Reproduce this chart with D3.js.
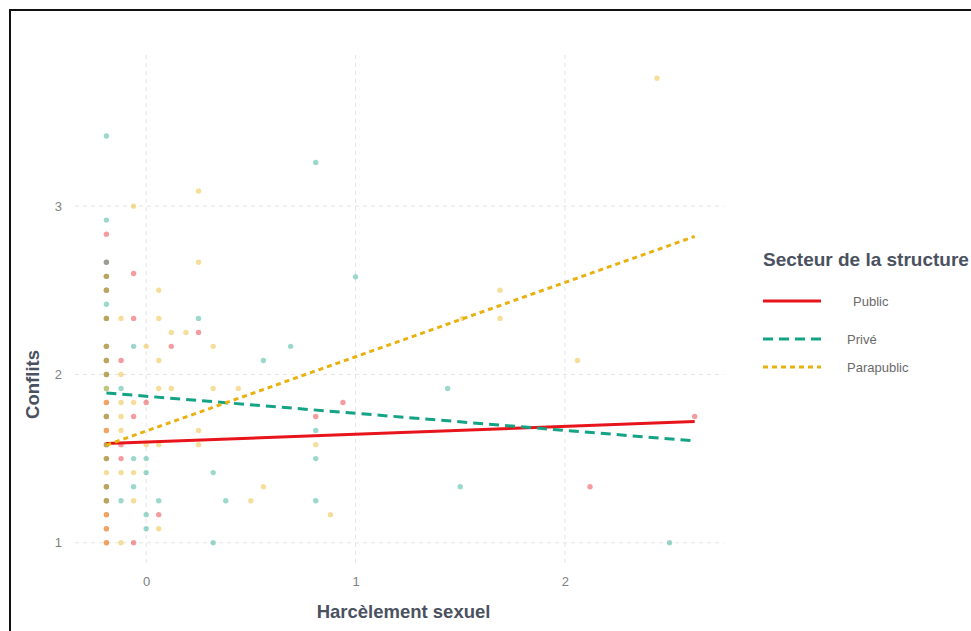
<!DOCTYPE html>
<html><head><meta charset="utf-8">
<script src="https://cdn.jsdelivr.net/npm/d3@7"></script>
<style>body{margin:0;background:#fff}svg{display:block}</style>
</head><body>
<svg id="c" width="971" height="631"></svg>
<script>
// ---- data ----
const categories = ["Public", "Privé", "Parapublic"];
const colors = ["#E8141C", "#14A385", "#E9B10F"];
const xTicks = [0, 1, 2];
const yTicks = [1, 2, 3];
const xLabel = "Harcèlement sexuel";
const yLabel = "Conflits";
const legendTitle = "Secteur de la structure";

// points [x, y] per sector
const publicPts = [
  [-0.19,1.0],[-0.19,1.083],[-0.19,1.167],[-0.19,1.25],[-0.19,1.333],[-0.19,1.5],[-0.19,1.583],[-0.19,1.667],
  [-0.19,1.75],[-0.19,1.833],[-0.19,2.0],[-0.19,2.083],[-0.19,2.167],[-0.19,2.333],[-0.19,2.5],[-0.19,2.583],
  [-0.19,2.667],[-0.19,2.833],
  [-0.12,2.083],[-0.12,1.583],[-0.12,1.5],
  [-0.06,2.6],[-0.06,2.333],[-0.06,1.75],[-0.06,1.0],
  [0,1.833],[0.06,1.167],[0.12,2.167],[0.25,2.25],
  [0.81,1.75],[0.94,1.833],[2.12,1.333],[2.62,1.75]
];
const privePts = [
  [-0.19,1.25],[-0.19,1.333],[-0.19,1.5],[-0.19,1.583],[-0.19,1.75],[-0.19,1.917],[-0.19,2.0],[-0.19,2.083],
  [-0.19,2.167],[-0.19,2.333],[-0.19,2.417],[-0.19,2.5],[-0.19,2.583],[-0.19,2.667],[-0.19,2.917],[-0.19,3.417],
  [-0.12,1.917],[-0.12,1.25],
  [-0.06,2.167],[-0.06,1.5],[-0.06,1.333],
  [0,1.5],[0,1.417],[0,1.167],[0,1.083],[0.06,1.25],
  [0.25,2.333],[0.32,1.417],[0.32,1.0],[0.38,1.25],[0.56,2.083],[0.69,2.167],
  [0.81,3.26],[0.81,1.667],[0.81,1.5],[0.81,1.25],
  [1.0,2.58],[1.44,1.917],[1.5,1.333],[2.5,1.0]
];
const parapublicPts = [
  [-0.19,1.0],[-0.19,1.083],[-0.19,1.167],[-0.19,1.25],[-0.19,1.333],[-0.19,1.417],[-0.19,1.5],[-0.19,1.583],
  [-0.19,1.667],[-0.19,1.75],[-0.19,1.833],[-0.19,1.917],[-0.19,2.0],[-0.19,2.083],[-0.19,2.167],[-0.19,2.333],
  [-0.19,2.5],[-0.19,2.583],
  [-0.12,2.333],[-0.12,2.0],[-0.12,1.833],[-0.12,1.75],[-0.12,1.667],[-0.12,1.417],[-0.12,1.0],
  [-0.06,3.0],[-0.06,1.833],[-0.06,1.417],[-0.06,1.25],
  [0,2.167],[0,1.583],[0.06,2.5],[0.06,2.333],[0.06,2.083],[0.06,1.917],[0.06,1.583],[0.06,1.083],
  [0.12,2.25],[0.12,1.917],[0.19,2.25],
  [0.25,3.09],[0.25,2.667],[0.25,1.667],[0.25,1.583],
  [0.32,2.167],[0.32,1.917],[0.44,1.917],[0.5,1.25],[0.56,1.333],
  [0.81,1.583],[0.88,1.167],
  [1.51,2.333],[1.69,2.5],[1.69,2.333],[2.06,2.083],[2.44,3.76]
];
const series = [publicPts, privePts, parapublicPts];

// fitted regression lines: [x start, y start, x end, y end]
const fitPublic = [-0.19, 1.59, 2.62, 1.72];
const fitPrive = [-0.19, 1.89, 2.62, 1.605];
const fitParapublic = [-0.19, 1.58, 2.62, 2.82];
const fits = [fitPublic, fitPrive, fitParapublic];
const dashes = [null, "10,6", "5,4"];

// ---- drawing ----
const svg = d3.select("#c");
const panel = {left: 75, right: 724, top: 55, bottom: 566};
const x = d3.scaleLinear().domain([-0.34, 2.76]).range([panel.left, panel.right]);
const y = d3.scaleLinear().domain([0.862, 3.898]).range([panel.bottom, panel.top]);

// frame
svg.append("rect").attr("x", 10).attr("y", 10).attr("width", 980).attr("height", 640)
  .attr("fill", "none").attr("stroke", "#111").attr("stroke-width", 2);

// grid
const g = svg.append("g");
g.selectAll(".vg").data(xTicks).join("line")
  .attr("x1", d => x(d)).attr("x2", d => x(d)).attr("y1", panel.top).attr("y2", panel.bottom)
  .attr("stroke", "#e4e4e4").attr("stroke-width", 1).attr("stroke-dasharray", "4,4");
g.selectAll(".hg").data(yTicks).join("line")
  .attr("y1", d => y(d)).attr("y2", d => y(d)).attr("x1", panel.left).attr("x2", panel.right)
  .attr("stroke", "#e4e4e4").attr("stroke-width", 1).attr("stroke-dasharray", "4,4");

// axes (no lines, only labels)
const xAxis = svg.append("g").attr("transform", `translate(0,${panel.bottom + 8})`)
  .call(d3.axisBottom(x).tickValues(xTicks).tickSize(0).tickFormat(d3.format("d")));
xAxis.select(".domain").remove();
xAxis.selectAll("text").attr("fill", "#808080").attr("font-size", 13)
  .attr("font-family", "Liberation Sans, Arial, sans-serif");
const yAxis = svg.append("g").attr("transform", `translate(${panel.left - 10},0)`)
  .call(d3.axisLeft(y).tickValues(yTicks).tickSize(0).tickFormat(d3.format("d")));
yAxis.select(".domain").remove();
yAxis.selectAll("text").attr("fill", "#808080").attr("font-size", 13)
  .attr("font-family", "Liberation Sans, Arial, sans-serif");

// points
series.forEach((pts, i) => {
  svg.append("g").selectAll("circle").data(pts).join("circle")
    .attr("cx", d => x(d[0])).attr("cy", d => y(d[1])).attr("r", 2.7)
    .attr("fill", colors[i]).attr("fill-opacity", 0.42);
});

// regression lines
fits.forEach((f, i) => {
  const ln = svg.append("line")
    .attr("x1", x(f[0])).attr("y1", y(f[1])).attr("x2", x(f[2])).attr("y2", y(f[3]))
    .attr("stroke", colors[i]).attr("stroke-width", 3);
  if (dashes[i]) ln.attr("stroke-dasharray", dashes[i]);
});

// axis titles
svg.append("text").attr("x", (x(0) + x(2)) / 2 + 48).attr("y", 618).attr("text-anchor", "middle")
  .attr("font-family", "Liberation Sans, Arial, sans-serif").attr("font-weight", "bold")
  .attr("font-size", 18.5).attr("fill", "#4a5160").text(xLabel);
svg.append("text").attr("transform", `translate(39,${(y(1) + y(3)) / 2 + 10}) rotate(-90)`)
  .attr("text-anchor", "middle")
  .attr("font-family", "Liberation Sans, Arial, sans-serif").attr("font-weight", "bold")
  .attr("font-size", 18.5).attr("fill", "#4a5160").text(yLabel);

// legend
const lg = svg.append("g").attr("transform", "translate(763,0)");
lg.append("text").attr("x", 0).attr("y", 266)
  .attr("font-family", "Liberation Sans, Arial, sans-serif").attr("font-weight", "bold")
  .attr("font-size", 19).attr("fill", "#4a5160").text(legendTitle);
const ly = [301, 339, 367];
const lx = [90, 84, 84];
categories.forEach((c, i) => {
  const l = lg.append("line").attr("x1", 0).attr("x2", 58).attr("y1", ly[i]).attr("y2", ly[i])
    .attr("stroke", colors[i]).attr("stroke-width", 3);
  if (dashes[i]) l.attr("stroke-dasharray", dashes[i]);
  lg.append("text").attr("x", lx[i]).attr("y", ly[i] + 5)
    .attr("font-family", "Liberation Sans, Arial, sans-serif")
    .attr("font-size", 13).attr("fill", "#6a6a6a").text(c);
});
</script>
</body></html>
